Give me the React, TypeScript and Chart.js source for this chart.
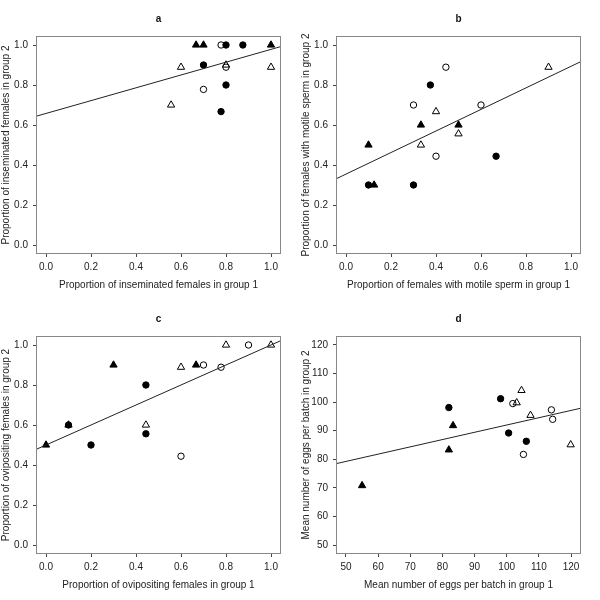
import React, { useEffect, useRef } from "react";
import { Chart, registerables } from "chart.js";

Chart.register(...registerables);

// ---------- data ----------
const PROP_TICKS = [0, 0.2, 0.4, 0.6, 0.8, 1.0];
const EGG_TICKS = [50, 60, 70, 80, 90, 100, 110, 120];

const A_TRI_FILLED = [[0.667, 1.0], [0.7, 1.0], [1.0, 1.0]];
const A_TRI_OPEN = [[0.6, 0.889], [0.556, 0.7], [0.8, 0.9], [1.0, 0.889]];
const A_CIR_FILLED = [[0.8, 1.0], [0.875, 1.0], [0.7, 0.9], [0.8, 0.8], [0.778, 0.667]];
const A_CIR_OPEN = [[0.778, 1.0], [0.7, 0.778], [0.8, 0.889]];
const A_LINE = [[-0.04, 0.645], [1.04, 0.991]];

const B_TRI_FILLED = [[0.333, 0.6], [0.5, 0.6], [0.1, 0.5], [0.125, 0.3]];
const B_TRI_OPEN = [[0.9, 0.889], [0.4, 0.667], [0.5, 0.556], [0.333, 0.5]];
const B_CIR_FILLED = [[0.375, 0.8], [0.667, 0.444], [0.1, 0.3], [0.3, 0.3]];
const B_CIR_OPEN = [[0.444, 0.889], [0.3, 0.7], [0.6, 0.7], [0.4, 0.444]];
const B_LINE = [[-0.04, 0.333], [1.04, 0.915]];

const C_TRI_FILLED = [[0.3, 0.9], [0.667, 0.9], [0.1, 0.6], [0.0, 0.5]];
const C_TRI_OPEN = [[0.8, 1.0], [1.0, 1.0], [0.6, 0.889], [0.444, 0.6]];
const C_CIR_FILLED = [[0.444, 0.8], [0.1, 0.6], [0.444, 0.556], [0.2, 0.5]];
const C_CIR_OPEN = [[0.9, 1.0], [0.7, 0.9], [0.778, 0.889], [0.6, 0.444]];
const C_LINE = [[-0.04, 0.48], [1.04, 1.02]];

const D_TRI_FILLED = [[55, 70.8], [82, 83.3], [83.3, 91.8]];
const D_TRI_OPEN = [[103.1, 99.8], [104.6, 104.1], [107.4, 95.4], [119.9, 85.1]];
const D_CIR_FILLED = [[82, 98.1], [98.1, 101.2], [100.6, 89.2], [106.1, 86.3]];
const D_CIR_OPEN = [[101.9, 99.5], [113.9, 97.3], [114.3, 94.0], [105.2, 81.7]];
const D_LINE = [[47.2, 78.54], [122.8, 97.81]];

const PANELS = [
  {
    title: "a",
    xLabel: "Proportion of inseminated females in group 1",
    yLabel: "Proportion of inseminated females in group 2",
    ticks: PROP_TICKS, min: -0.04, max: 1.04, digits: 1,
    triF: A_TRI_FILLED, triO: A_TRI_OPEN, cirF: A_CIR_FILLED, cirO: A_CIR_OPEN, line: A_LINE,
  },
  {
    title: "b",
    xLabel: "Proportion of females with motile sperm in group 1",
    yLabel: "Proportion of females with motile sperm in group 2",
    ticks: PROP_TICKS, min: -0.04, max: 1.04, digits: 1,
    triF: B_TRI_FILLED, triO: B_TRI_OPEN, cirF: B_CIR_FILLED, cirO: B_CIR_OPEN, line: B_LINE,
  },
  {
    title: "c",
    xLabel: "Proportion of ovipositing females in group 1",
    yLabel: "Proportion of ovipositing females in group 2",
    ticks: PROP_TICKS, min: -0.04, max: 1.04, digits: 1,
    triF: C_TRI_FILLED, triO: C_TRI_OPEN, cirF: C_CIR_FILLED, cirO: C_CIR_OPEN, line: C_LINE,
  },
  {
    title: "d",
    xLabel: "Mean number of eggs per batch in group 1",
    yLabel: "Mean number of eggs per batch in group 2",
    ticks: EGG_TICKS, min: 47.2, max: 122.8, digits: 0,
    triF: D_TRI_FILLED, triO: D_TRI_OPEN, cirF: D_CIR_FILLED, cirO: D_CIR_OPEN, line: D_LINE,
  },
];

const FONT = "'Liberation Sans', Arial, Helvetica, sans-serif";

const toPts = (arr: number[][]) => arr.map(([x, y]) => ({ x, y }));

const boxPlugin = {
  id: "rbox",
  afterDraw(chart: any) {
    const { ctx, chartArea } = chart;
    ctx.save();
    ctx.strokeStyle = "#888888";
    ctx.lineWidth = 1;
    ctx.strokeRect(
      Math.round(chartArea.left) - 0.5,
      Math.round(chartArea.top) - 0.5,
      Math.round(chartArea.right - chartArea.left) + 1,
      Math.round(chartArea.bottom - chartArea.top) + 1
    );
    ctx.restore();
  },
};

function makeScale(p: any, axis: "x" | "y") {
  return {
    type: "linear",
    position: axis === "x" ? "bottom" : "left",
    min: p.min,
    max: p.max,
    afterBuildTicks: (scale: any) => {
      scale.ticks = p.ticks.map((v: number) => ({ value: v }));
    },
    afterFit: (scale: any) => {
      if (axis === "x") scale.height = 47;
      else scale.width = 37;
    },
    border: { display: false },
    grid: {
      display: true,
      drawOnChartArea: false,
      drawTicks: true,
      tickLength: 4,
      color: "#444444",
      tickColor: "#444444",
    },
    ticks: {
      autoSkip: false,
      maxRotation: 0,
      padding: axis === "x" ? 4 : 5,
      color: "#222222",
      font: { family: FONT, size: 10 },
      callback: (v: any) => Number(v).toFixed(p.digits),
    },
    title: {
      display: true,
      text: axis === "x" ? p.xLabel : p.yLabel,
      color: "#222222",
      font: { family: FONT, size: 10 },
      padding: axis === "x" ? { top: 0, bottom: 9 } : { top: 0, bottom: 0 },
    },
  };
}

function Panel({ p, left, top }: { p: any; left: number; top: number }) {
  const ref = useRef<HTMLCanvasElement | null>(null);
  useEffect(() => {
    if (!ref.current) return;
    const common = { borderColor: "#000000", borderWidth: 1, showLine: false };
    const chart = new Chart(ref.current, {
      type: "scatter",
      data: {
        datasets: [
          {
            ...common,
            data: toPts(p.line),
            showLine: true,
            pointRadius: 0,
            borderWidth: 1,
            borderColor: "#222222",
            fill: false,
          },
          { ...common, data: toPts(p.cirO), pointStyle: "circle", pointRadius: 3.2, backgroundColor: "rgba(0,0,0,0)" },
          { ...common, data: toPts(p.triO), pointStyle: "triangle", pointRadius: 4.2, backgroundColor: "rgba(0,0,0,0)" },
          { ...common, data: toPts(p.cirF), pointStyle: "circle", pointRadius: 3.2, backgroundColor: "#000000" },
          { ...common, data: toPts(p.triF), pointStyle: "triangle", pointRadius: 4.2, backgroundColor: "#000000" },
        ] as any,
      },
      options: {
        responsive: false,
        maintainAspectRatio: false,
        animation: false,
        events: [],
        layout: { padding: { top: 0, left: 0, right: 20, bottom: 0 } },
        plugins: {
          legend: { display: false },
          tooltip: { enabled: false },
          title: {
            display: true,
            text: p.title,
            fullSize: false,
            color: "#111111",
            font: { family: FONT, size: 10, weight: "bold" },
            padding: { top: 13, bottom: 12 },
          },
        },
        scales: {
          x: makeScale(p, "x") as any,
          y: makeScale(p, "y") as any,
        },
      },
      plugins: [boxPlugin],
    });
    return () => chart.destroy();
  }, [p]);
  return (
    <canvas
      ref={ref}
      width={300}
      height={300}
      style={{ position: "absolute", left, top, width: 300, height: 300 }}
    />
  );
}

export default function App() {
  return (
    <div style={{ position: "absolute", left: 0, top: 0, width: 600, height: 600, background: "#ffffff" }}>
      <Panel p={PANELS[0]} left={0} top={0} />
      <Panel p={PANELS[1]} left={300} top={0} />
      <Panel p={PANELS[2]} left={0} top={300} />
      <Panel p={PANELS[3]} left={300} top={300} />
    </div>
  );
}
